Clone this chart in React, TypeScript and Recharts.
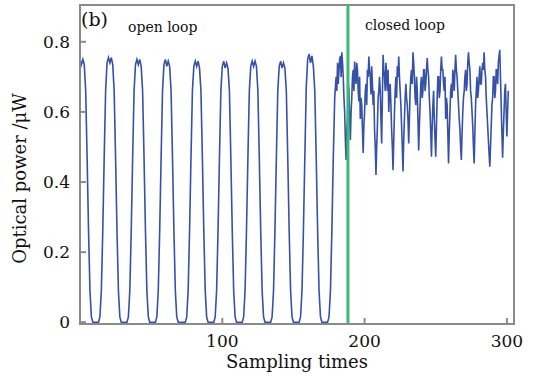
import { LineChart, Line, XAxis, YAxis, ReferenceLine, ReferenceArea, Label } from "recharts";

// optical power, one reading per sample, samples 0..179 (open loop)
const OPEN_LOOP = [
  0.75, 0.735, 0.75, 0.735, 0.66, 0.47, 0.26, 0.09, 0.015, 0, 0, 0, 0, 0,
  0.015, 0.09, 0.26, 0.47, 0.66, 0.74, 0.755, 0.74, 0.755, 0.735, 0.66, 0.47, 0.26, 0.09, 0.015, 0, 0, 0, 0, 0,
  0.015, 0.09, 0.26, 0.47, 0.66, 0.735, 0.75, 0.735, 0.75, 0.73, 0.66, 0.47, 0.26, 0.09, 0.015, 0, 0, 0, 0, 0,
  0.015, 0.09, 0.26, 0.47, 0.66, 0.735, 0.75, 0.73, 0.745, 0.73, 0.66, 0.47, 0.26, 0.09, 0.015, 0, 0, 0, 0, 0, 0,
  0.015, 0.09, 0.26, 0.47, 0.66, 0.73, 0.745, 0.73, 0.745, 0.725, 0.66, 0.47, 0.26, 0.09, 0.015, 0, 0, 0, 0, 0,
  0.015, 0.09, 0.26, 0.47, 0.66, 0.73, 0.745, 0.725, 0.74, 0.725, 0.66, 0.47, 0.26, 0.09, 0.015, 0, 0, 0, 0, 0,
  0.015, 0.09, 0.26, 0.47, 0.66, 0.73, 0.745, 0.73, 0.745, 0.73, 0.66, 0.47, 0.26, 0.09, 0.015, 0, 0, 0, 0, 0,
  0.015, 0.09, 0.26, 0.47, 0.66, 0.73, 0.745, 0.725, 0.74, 0.725, 0.66, 0.47, 0.26, 0.09, 0.015, 0, 0, 0, 0, 0,
  0.015, 0.09, 0.26, 0.47, 0.67, 0.75, 0.765, 0.74, 0.76, 0.73, 0.66, 0.47, 0.26, 0.09, 0.015, 0, 0, 0, 0, 0,
  0.015, 0.09, 0.26, 0.47, 0.64,
];

// closed loop, readings every half sample from 180 to 301
const CLOSED_START = 180;
const CLOSED_STEP = 0.5;
const CLOSED_LOOP = [
  0.7, 0.66, 0.74, 0.68, 0.72, 0.75, 0.76, 0.7, 0.77, 0.74,
  0.7, 0.64, 0.6, 0.52, 0.463, 0.55, 0.58, 0.68, 0.66, 0.58,
  0.52, 0.6, 0.64, 0.7, 0.72, 0.66, 0.744, 0.7, 0.68, 0.74,
  0.72, 0.66, 0.63, 0.7, 0.58, 0.64, 0.62, 0.55, 0.483, 0.56,
  0.6, 0.66, 0.68, 0.62, 0.72, 0.7, 0.758, 0.72, 0.7, 0.65,
  0.73, 0.68, 0.62, 0.66, 0.55, 0.5, 0.42, 0.5, 0.56, 0.64,
  0.66, 0.7, 0.66, 0.58, 0.51, 0.64, 0.763, 0.72, 0.7, 0.66,
  0.74, 0.7, 0.66, 0.72, 0.6, 0.66, 0.68, 0.62, 0.55, 0.5,
  0.434, 0.52, 0.6, 0.66, 0.7, 0.64, 0.73, 0.7, 0.758, 0.7,
  0.66, 0.62, 0.56, 0.5, 0.43, 0.52, 0.58, 0.64, 0.68, 0.64,
  0.62, 0.58, 0.51, 0.58, 0.66, 0.7, 0.72, 0.68, 0.77, 0.74,
  0.7, 0.64, 0.62, 0.7, 0.66, 0.58, 0.49, 0.56, 0.62, 0.68,
  0.7, 0.64, 0.66, 0.72, 0.72, 0.66, 0.68, 0.72, 0.754, 0.72,
  0.7, 0.64, 0.6, 0.54, 0.472, 0.56, 0.62, 0.66, 0.58, 0.52,
  0.472, 0.56, 0.64, 0.7, 0.7, 0.64, 0.66, 0.72, 0.758, 0.72,
  0.72, 0.68, 0.66, 0.7, 0.58, 0.64, 0.62, 0.54, 0.453, 0.54,
  0.6, 0.66, 0.68, 0.64, 0.72, 0.7, 0.66, 0.72, 0.763, 0.72,
  0.7, 0.66, 0.62, 0.58, 0.55, 0.5, 0.463, 0.54, 0.6, 0.64,
  0.66, 0.7, 0.72, 0.66, 0.68, 0.74, 0.77, 0.74, 0.72, 0.66,
  0.64, 0.6, 0.56, 0.5, 0.453, 0.54, 0.62, 0.66, 0.7, 0.64,
  0.66, 0.7, 0.73, 0.68, 0.68, 0.72, 0.74, 0.72, 0.77, 0.72,
  0.7, 0.64, 0.6, 0.56, 0.52, 0.48, 0.444, 0.5, 0.56, 0.62,
  0.64, 0.7, 0.7, 0.64, 0.66, 0.72, 0.72, 0.68, 0.74, 0.76,
  0.777, 0.7, 0.62, 0.54, 0.469, 0.54, 0.6, 0.66, 0.68, 0.6,
  0.53, 0.6, 0.66,
];

const X_TICKS = [100, 200, 300];
const Y_TICKS = [0, 0.2, 0.4, 0.6, 0.8];
const SWITCH_SAMPLE = 188.3;

const BLUE = "#3651a8";
const GREEN = "#3cba72";
const FRAME = "#8a8a8a";
const INK = "#111";
const FONT = "DejaVu Serif";
const TICK_GAP = 10;

const data = [
  ...OPEN_LOOP.map((power, i) => ({ sample: i, power })),
  ...CLOSED_LOOP.map((power, i) => ({ sample: CLOSED_START + i * CLOSED_STEP, power })),
];

function YTick({ x, y, payload }: any) {
  const v = payload.value as number;
  return (
    <g>
      <line x1={x + TICK_GAP} x2={x + TICK_GAP + 6} y1={y} y2={y} stroke={FRAME} strokeWidth={2} />
      <text x={x} y={y} dy="0.36em" textAnchor="end" fill={INK} fontSize={17} fontFamily={FONT}>
        {v === 0 ? "0" : v.toFixed(1)}
      </text>
    </g>
  );
}

function XTick({ x, y, payload }: any) {
  return (
    <g>
      <line x1={x} x2={x} y1={y - TICK_GAP} y2={y - TICK_GAP - 6} stroke={FRAME} strokeWidth={2} />
      <text x={x} y={y} dy="0.74em" textAnchor="middle" fill={INK} fontSize={17} fontFamily={FONT}>
        {payload.value}
      </text>
    </g>
  );
}

export default function App() {
  return (
    <div style={{ position: "absolute", left: 0, top: 0, width: 537, height: 377, fontFamily: FONT, color: INK }}>
      <LineChart width={537} height={377} data={data} margin={{ top: 5, right: 23, bottom: 3, left: 20 }}>
        <XAxis
          dataKey="sample"
          type="number"
          domain={[0, 305]}
          ticks={X_TICKS}
          height={50}
          stroke={FRAME}
          strokeWidth={2}
          tickLine={false}
          tickSize={0}
          tickMargin={TICK_GAP}
          tick={<XTick />}
        >
          <Label value="Sampling times" position="insideBottom" offset={6} fill={INK} fontSize={18} fontFamily={FONT} />
        </XAxis>
        <YAxis
          type="number"
          domain={[-0.005, 0.905]}
          ticks={Y_TICKS}
          width={60}
          stroke={FRAME}
          strokeWidth={2}
          tickLine={false}
          tickSize={0}
          tickMargin={TICK_GAP}
          tick={<YTick />}
        >
          <Label
            value="Optical power /μW"
            angle={-90}
            position="insideLeft"
            offset={0}
            dy={14}
            fill={INK}
            fontSize={18}
            fontFamily={FONT}
            style={{ textAnchor: "middle" }}
          />
        </YAxis>
        <ReferenceArea x1={0} x2={305} y1={-0.005} y2={0.905} fill="none" stroke={FRAME} strokeWidth={2} />
        <Line
          dataKey="power"
          stroke={BLUE}
          strokeWidth={1.6}
          dot={false}
          isAnimationActive={false}
        />
        <ReferenceLine x={SWITCH_SAMPLE} stroke={GREEN} strokeWidth={3} />
      </LineChart>
      <span style={{ position: "absolute", left: 81, top: 8, fontSize: 19 }}>(b)</span>
      <span style={{ position: "absolute", left: 128, top: 19, fontSize: 14 }}>open loop</span>
      <span style={{ position: "absolute", left: 365, top: 17, fontSize: 14 }}>closed loop</span>
    </div>
  );
}
